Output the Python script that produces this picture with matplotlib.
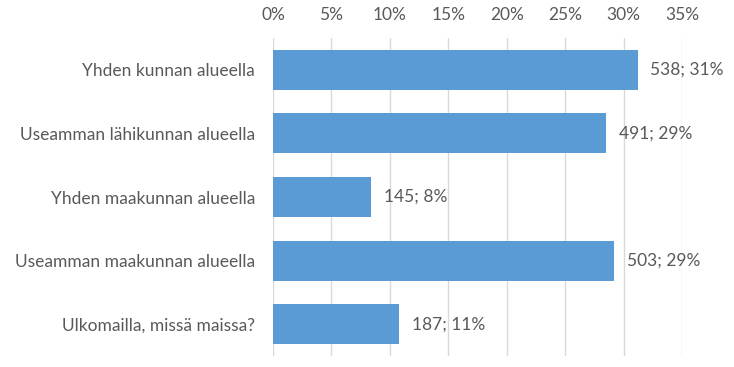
import matplotlib
matplotlib.use("Agg")
import matplotlib.pyplot as plt
from matplotlib.ticker import FuncFormatter

categories = ["Yhden kunnan alueella", "Useamman lähikunnan alueella", "Yhden maakunnan alueella",
              "Useamman maakunnan alueella", "Ulkomailla, missä maissa?"]
counts = [538, 491, 145, 503, 187]
percents = [31.2, 28.5, 8.4, 29.2, 10.8]
pct_labels = ["31%", "29%", "8%", "29%", "11%"]
ticks = [0, 5, 10, 15, 20, 25, 30, 35]

plt.rcParams['font.family'] = ['Lato', 'DejaVu Sans']
txt = '#595959'
fs = 12.5

fig = plt.figure(figsize=(7.34, 3.67), dpi=100)
ax = fig.add_axes([273/734, 1-356/367, (682-273)/734, (356-38)/367])

y = list(range(len(categories)))
ax.barh(y, percents, height=0.63, color='#5B9BD5', zorder=3)
ax.set_ylim(len(categories)-0.5, -0.5)
ax.set_xlim(0, 35)
ax.set_xticks(ticks)
ax.xaxis.set_major_formatter(FuncFormatter(lambda v, p: f"{int(v)}%"))
ax.xaxis.tick_top()
ax.set_yticks(y)
ax.set_yticklabels(categories)
ax.tick_params(axis='both', length=0, labelsize=fs, colors=txt)
ax.tick_params(axis='y', pad=13)
ax.tick_params(axis='x', pad=11)
ax.grid(axis='x', color='#D9D9D9', linewidth=1, zorder=0)
for s in ax.spines.values():
    s.set_visible(False)

for i, (c, p, l) in enumerate(zip(counts, percents, pct_labels)):
    ax.annotate(f"{c}; {l}", xy=(p, i), xytext=(9, 0), textcoords='offset points',
                va='center', ha='left', fontsize=fs, color=txt)

fig.savefig("out.png", dpi=100)
